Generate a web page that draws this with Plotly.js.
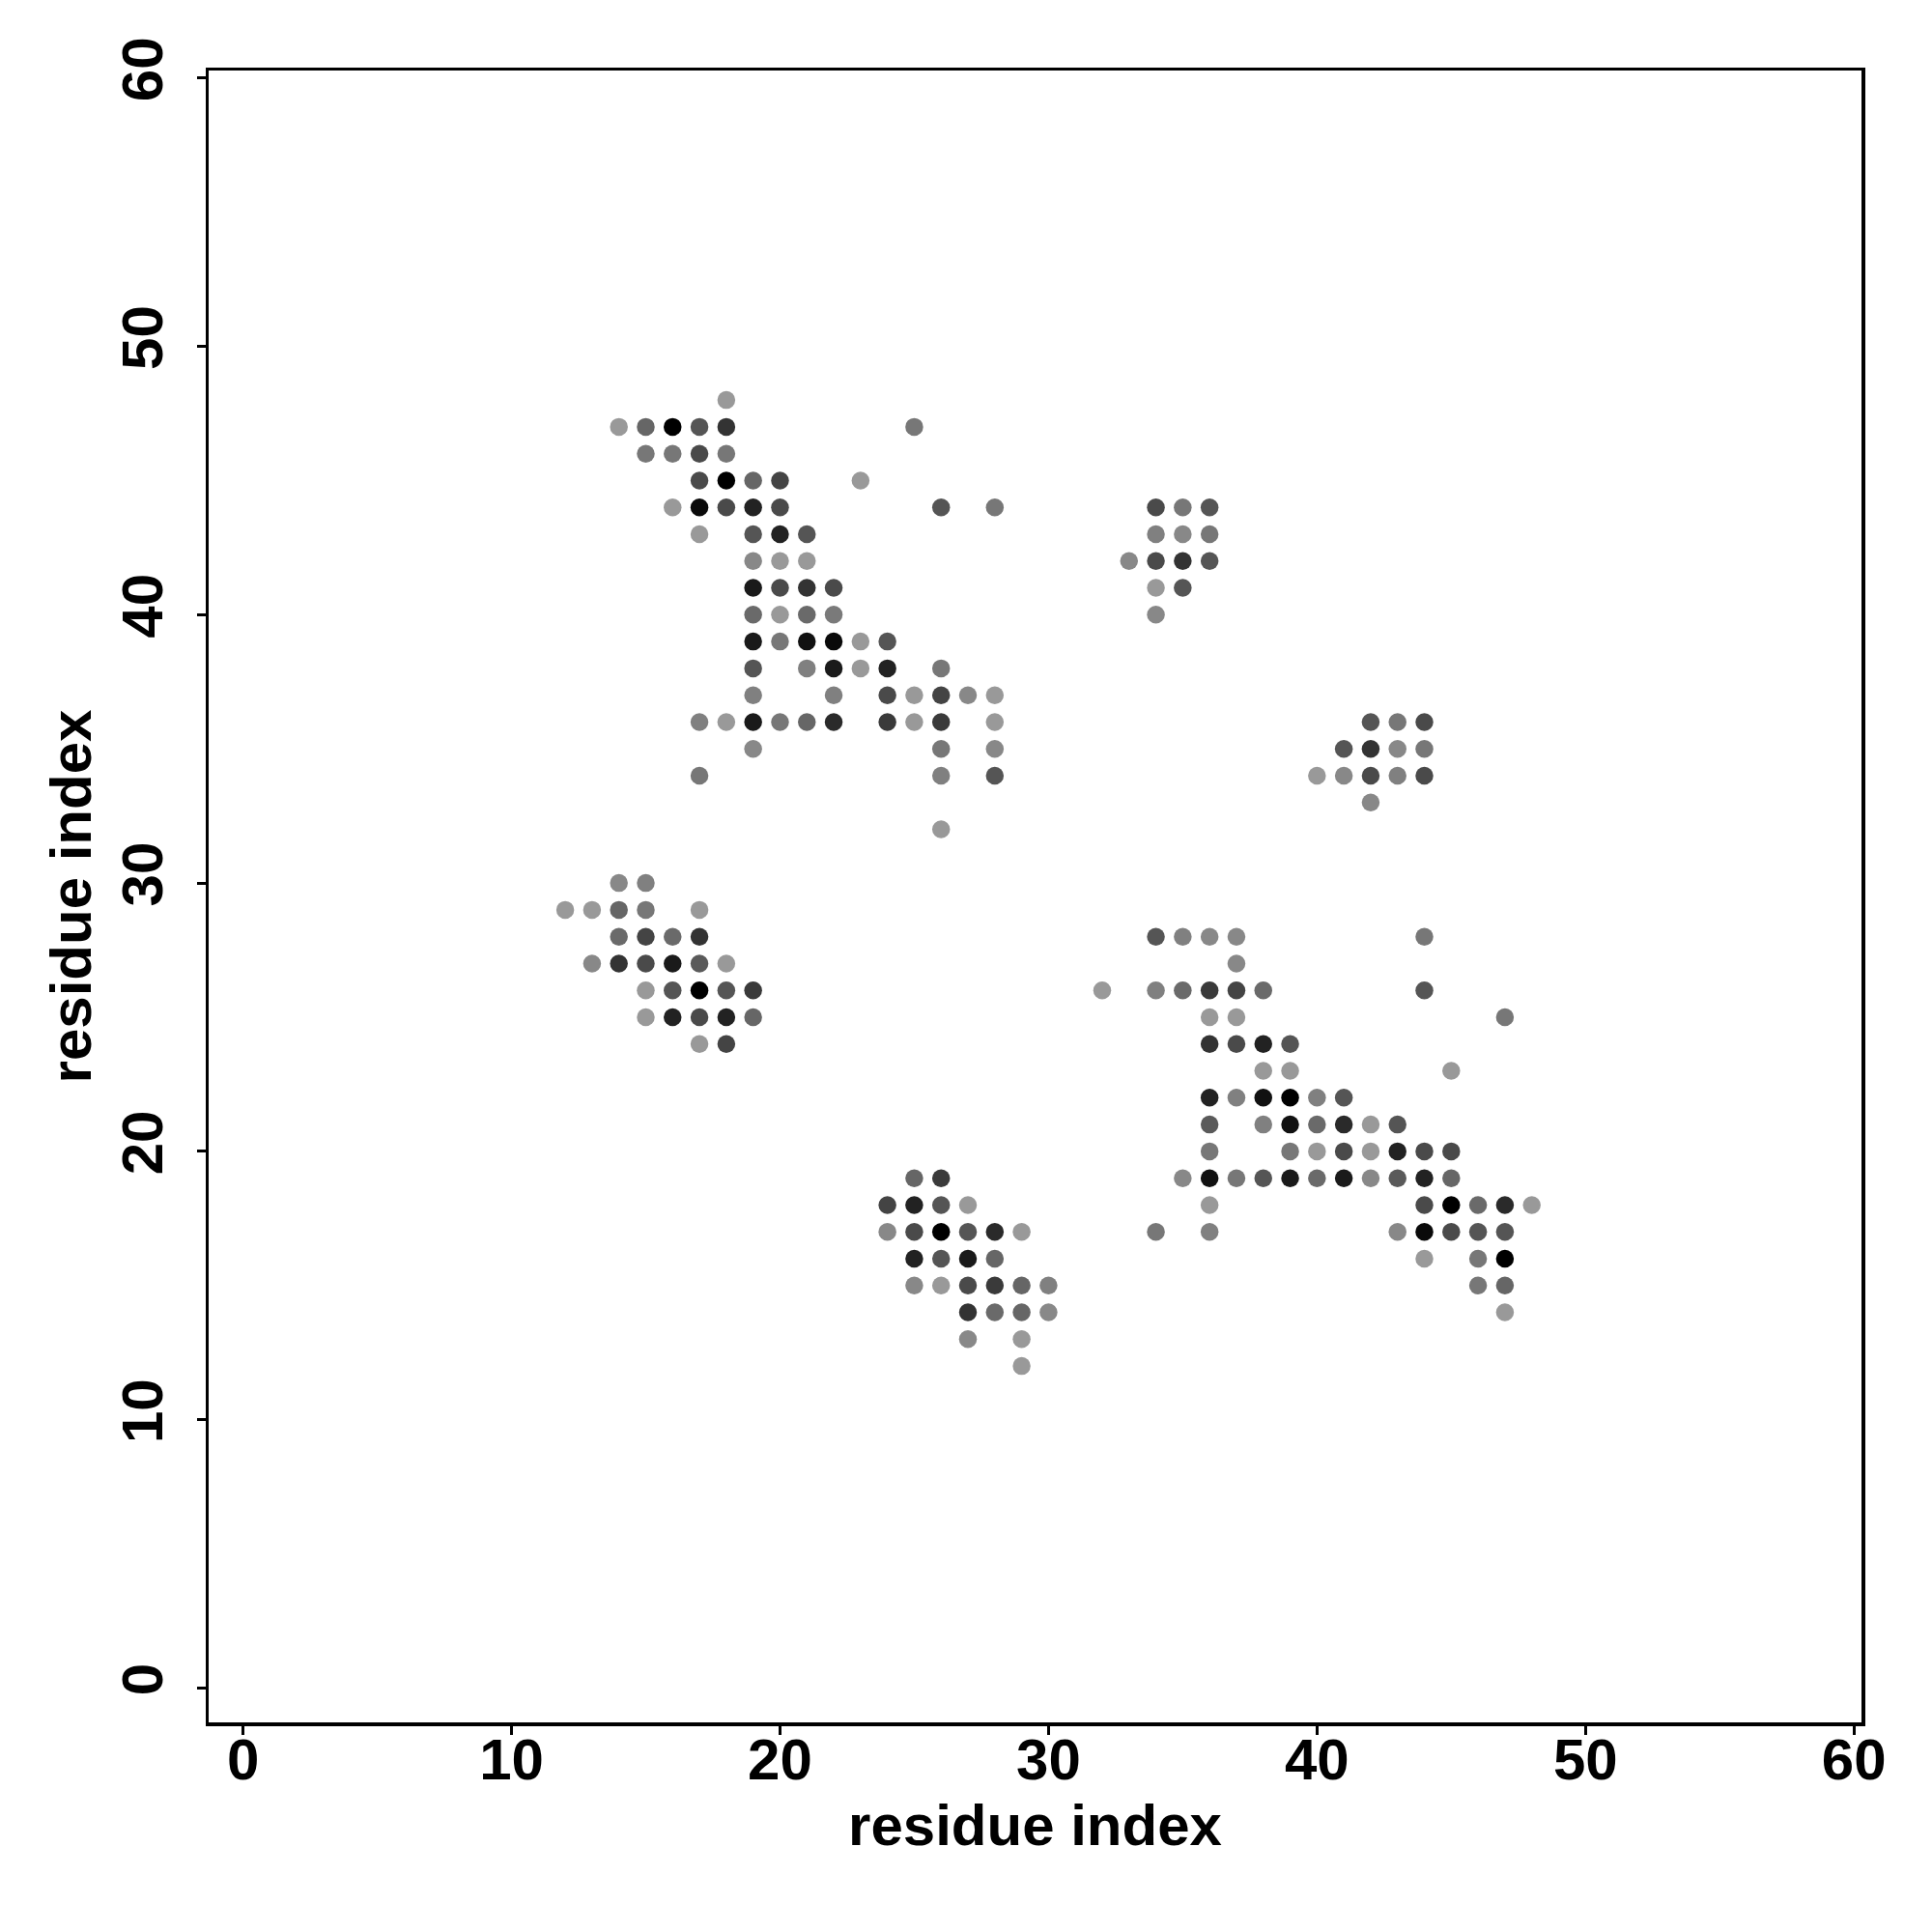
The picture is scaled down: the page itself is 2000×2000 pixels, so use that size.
<!DOCTYPE html>
<html>
<head>
<meta charset="utf-8">
<script src="https://cdn.plot.ly/plotly-3.0.1.min.js"></script>
<style>html,body{margin:0;padding:0;background:#fff;}#plot{width:2000px;height:2000px;}</style>
</head>
<body>
<div id="plot"></div>
<script>
// residue pairs in contact (x = residue i, y = residue j)
const resX = [
  18,
  14,15,16,17,18,25,
  15,16,17,18,
  17,18,19,20,23,
  16,17,18,19,20,26,28,
  17,19,20,21,
  19,20,21,
  19,20,21,22,
  19,20,21,22,
  19,20,21,22,23,24,
  19,21,22,23,24,26,
  19,22,24,25,26,27,28,
  17,18,19,20,21,22,24,25,26,28,
  19,26,28,
  17,26,28,
  26,
  34,35,36,
  34,35,36,
  33,34,35,36,
  34,35,
  34,
  42,43,44,
  41,42,43,44,
  40,41,42,43,44,
  42,
  14,15,
  12,13,14,15,17,
  14,15,16,17,
  13,14,15,16,17,18,
  15,16,17,18,19,
  15,16,17,18,19,
  17,18,
  34,35,36,37,44,
  37,
  32,34,35,36,37,38,44,
  36,37,47,
  36,37,38,39,
  38,39,45,
  36,37,38,39,40,41,
  36,38,39,40,41,42,43,
  36,39,40,41,42,43,44,45,
  35,36,37,38,39,40,41,42,43,44,45,
  36,44,45,46,47,48,
  34,36,43,44,45,46,47,
  44,46,47,
  46,47,
  47,
  25,26,
  24,25,26,27,
  24,25,26,27,28,29,
  25,26,27,28,
  25,26,27,28,29,30,
  27,28,29,30,
  27,29,
  29
];
const resY = [
  48,
  47,47,47,47,47,47,
  46,46,46,46,
  45,45,45,45,45,
  44,44,44,44,44,44,44,
  43,43,43,43,
  42,42,42,
  41,41,41,41,
  40,40,40,40,
  39,39,39,39,39,39,
  38,38,38,38,38,38,
  37,37,37,37,37,37,37,
  36,36,36,36,36,36,36,36,36,36,
  35,35,35,
  34,34,34,
  32,
  44,44,44,
  43,43,43,
  42,42,42,42,
  41,41,
  40,
  36,36,36,
  35,35,35,35,
  34,34,34,34,34,
  33,
  30,30,
  29,29,29,29,29,
  28,28,28,28,
  27,27,27,27,27,27,
  26,26,26,26,26,
  25,25,25,25,25,
  24,24,
  28,28,28,28,28,
  27,
  26,26,26,26,26,26,26,
  25,25,25,
  24,24,24,24,
  23,23,23,
  22,22,22,22,22,22,
  21,21,21,21,21,21,21,
  20,20,20,20,20,20,20,20,
  19,19,19,19,19,19,19,19,19,19,19,
  18,18,18,18,18,18,
  17,17,17,17,17,17,17,
  16,16,16,
  15,15,
  14,
  19,19,
  18,18,18,18,
  17,17,17,17,17,17,
  16,16,16,16,
  15,15,15,15,15,15,
  14,14,14,14,
  13,13,
  12
];
// grey level of each point (0 = black, 153 = light grey)
const shade = [
  153,
  153,102,0,85,51,119,
  119,119,74,119,
  74,0,102,68,153,
  153,10,74,34,74,85,119,
  153,85,34,85,
  136,153,153,
  26,74,51,74,
  106,153,106,122,
  26,119,17,10,153,85,
  85,128,26,153,34,119,
  128,128,74,153,68,136,153,
  128,153,26,119,102,42,58,153,58,153,
  136,119,136,
  119,128,85,
  153,
  74,119,85,
  128,136,119,
  136,74,51,85,
  153,85,
  136,
  85,119,74,
  85,51,136,119,
  153,136,74,128,74,
  136,
  136,128,
  153,153,102,119,153,
  106,68,106,51,
  136,51,74,26,90,153,
  153,85,0,85,58,
  153,34,74,34,102,
  153,68,
  85,128,136,136,119,
  136,
  153,128,106,58,68,106,85,
  153,153,119,
  51,74,34,85,
  153,153,153,
  34,128,17,0,128,85,
  90,128,17,106,42,153,85,
  119,119,153,74,153,34,74,74,
  136,17,119,85,26,106,26,136,90,34,102,
  153,74,0,106,42,153,
  119,128,136,10,74,85,85,
  153,119,0,
  119,102,
  153,
  102,58,
  68,34,85,153,
  136,74,0,85,42,153,
  34,85,26,102,
  136,153,74,58,102,128,
  51,106,102,136,
  136,153,
  153
];
const tickVals = [0, 10, 20, 30, 40, 50, 60];
const axisLabel = "residue index";

const colors = shade.map(s => `rgb(${s},${s},${s})`);

const fontBase = {family: "Liberation Sans, Arial, sans-serif", color: "#000", weight: 700};

const axisCommon = {
  range: [-1.28, 60.28],
  tickmode: "array",
  tickvals: tickVals,
  ticktext: tickVals.map(String),
  ticks: "outside",
  ticklen: 9,
  tickwidth: 3,
  tickcolor: "#000",
  showline: true,
  linewidth: 3.5,
  linecolor: "#000",
  mirror: true,
  showgrid: false,
  zeroline: false,
  tickfont: Object.assign({}, fontBase, {size: 60}),
  automargin: false
};

const trace = {
  type: "scatter",
  mode: "markers",
  x: resX,
  y: resY,
  marker: {size: 18.5, color: colors, line: {width: 0}},
  hoverinfo: "x+y"
};

const layout = {
  width: 2000,
  height: 2000,
  paper_bgcolor: "#fff",
  plot_bgcolor: "#fff",
  showlegend: false,
  margin: {l: 216, r: 73, t: 73, b: 217},
  xaxis: Object.assign({}, axisCommon, {
    ticklabelstandoff: -26,
    title: {text: axisLabel, font: Object.assign({}, fontBase, {size: 60}), standoff: 15}
  }),
  yaxis: Object.assign({}, axisCommon, {
    tickangle: -90,
    ticklabelstandoff: 12,
    title: {text: axisLabel, font: Object.assign({}, fontBase, {size: 60}), standoff: 0}
  })
};

Plotly.newPlot("plot", [trace], layout, {staticPlot: true});
</script>
</body>
</html>
